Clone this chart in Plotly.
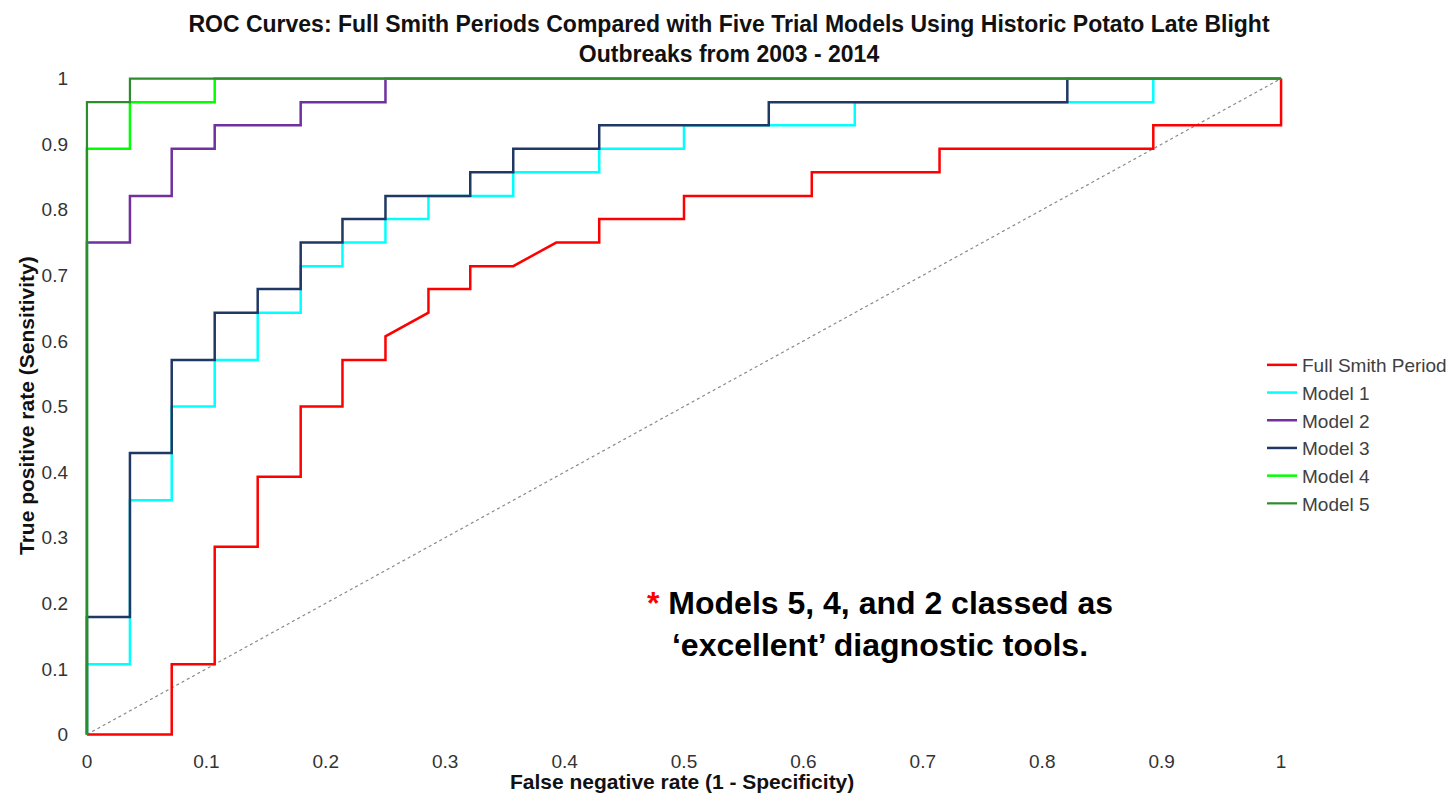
import plotly.graph_objects as go

# ---- data ----
series_names = ["Full Smith Period", "Model 1", "Model 2", "Model 3", "Model 4", "Model 5"]
series_colors = ["#FF0000", "#00FFFF", "#7030A0", "#1F3864", "#00FF00", "#2E8B2E"]

full_smith_x = [0, 0.071, 0.071, 0.107, 0.107, 0.143, 0.143, 0.179, 0.179, 0.214, 0.214, 0.25, 0.25,
                0.286, 0.286, 0.321, 0.321, 0.357, 0.393, 0.429, 0.429, 0.5, 0.5, 0.607, 0.607,
                0.714, 0.714, 0.893, 0.893, 1, 1]
full_smith_y = [0, 0, 0.107, 0.107, 0.286, 0.286, 0.393, 0.393, 0.5, 0.5, 0.571, 0.571, 0.607,
                0.643, 0.679, 0.679, 0.714, 0.714, 0.75, 0.75, 0.786, 0.786, 0.821, 0.821, 0.857,
                0.857, 0.893, 0.893, 0.929, 0.929, 1]

model1_x = [0, 0, 0.036, 0.036, 0.071, 0.071, 0.107, 0.107, 0.143, 0.143, 0.179, 0.179, 0.214, 0.214,
            0.25, 0.25, 0.286, 0.286, 0.357, 0.357, 0.429, 0.429, 0.5, 0.5, 0.643, 0.643,
            0.893, 0.893, 1]
model1_y = [0, 0.107, 0.107, 0.357, 0.357, 0.5, 0.5, 0.571, 0.571, 0.643, 0.643, 0.714, 0.714, 0.75,
            0.75, 0.786, 0.786, 0.821, 0.821, 0.857, 0.857, 0.893, 0.893, 0.929, 0.929, 0.964,
            0.964, 1, 1]

model2_x = [0, 0, 0.036, 0.036, 0.071, 0.071, 0.107, 0.107, 0.179, 0.179, 0.25, 0.25, 1]
model2_y = [0, 0.75, 0.75, 0.821, 0.821, 0.893, 0.893, 0.929, 0.929, 0.964, 0.964, 1, 1]

model3_x = [0, 0, 0.036, 0.036, 0.071, 0.071, 0.107, 0.107, 0.143, 0.143, 0.179, 0.179, 0.214, 0.214,
            0.25, 0.25, 0.321, 0.321, 0.357, 0.357, 0.429, 0.429, 0.571, 0.571, 0.821, 0.821, 1]
model3_y = [0, 0.179, 0.179, 0.429, 0.429, 0.571, 0.571, 0.643, 0.643, 0.679, 0.679, 0.75, 0.75, 0.786,
            0.786, 0.821, 0.821, 0.857, 0.857, 0.893, 0.893, 0.929, 0.929, 0.964, 0.964, 1, 1]

model4_x = [0, 0, 0.036, 0.036, 0.107, 0.107, 1]
model4_y = [0, 0.893, 0.893, 0.964, 0.964, 1, 1]

model5_x = [0, 0, 0.036, 0.036, 1]
model5_y = [0, 0.964, 0.964, 1, 1]

reference_x = [0, 1]
reference_y = [0, 1]

tick_values = [0, 0.1, 0.2, 0.3, 0.4, 0.5, 0.6, 0.7, 0.8, 0.9, 1]
tick_labels = ["0", "0.1", "0.2", "0.3", "0.4", "0.5", "0.6", "0.7", "0.8", "0.9", "1"]

series_x = [full_smith_x, model1_x, model2_x, model3_x, model4_x, model5_x]
series_y = [full_smith_y, model1_y, model2_y, model3_y, model4_y, model5_y]
series_widths = [2.5, 2.5, 2.5, 2.5, 2.5, 2.2]

FONT = "Liberation Sans, Arial, sans-serif"

fig = go.Figure()

fig.add_trace(go.Scatter(x=reference_x, y=reference_y, mode="lines",
                         line=dict(color="#8a8a8a", width=1.2, dash="dot"),
                         showlegend=False, hoverinfo="skip"))

for i, name in enumerate(series_names):
    fig.add_trace(go.Scatter(x=series_x[i], y=series_y[i], mode="lines", name=name,
                             legendgroup=name,
                             line=dict(color=series_colors[i], width=series_widths[i])))

# plot area: x 75..1293 px, y 72..741 px
L, R, T, B = 75, 156, 72, 57
W, H = 1449, 798
pw = W - L - R
ph = H - T - B

def px_x(px):
    return (px - L) / pw

def px_y(py):
    return (H - B - py) / ph

fig.update_layout(
    width=W, height=H,
    margin=dict(l=L, r=R, t=T, b=B, pad=0, autoexpand=False),
    paper_bgcolor="white", plot_bgcolor="white",
    font=dict(family=FONT, color="#222222"),
    title=dict(
        text="ROC Curves: Full Smith Periods Compared with Five Trial Models Using Historic Potato Late Blight<br>Outbreaks from 2003 - 2014",
        font=dict(family=FONT, size=23, color="#111111", weight="bold"),
        x=729 / W, xanchor="center", y=1 - 32 / H, yanchor="middle", xref="container", yref="container",
    ),
    xaxis=dict(range=[-0.01, 1.01], tickvals=tick_values, ticktext=tick_labels,
               showgrid=False, zeroline=False, showline=False, ticks="",
               tickfont=dict(family=FONT, size=19, color="#333333"), ticklabelstandoff=7),
    yaxis=dict(range=[-0.01, 1.01], tickvals=tick_values, ticktext=tick_labels,
               showgrid=False, zeroline=False, showline=False, ticks="",
               tickfont=dict(family=FONT, size=19, color="#333333"), ticklabelstandoff=6),
    legend=dict(x=px_x(1262), xanchor="left", y=px_y(346), yanchor="top",
                bgcolor="rgba(0,0,0,0)", borderwidth=0, traceorder="grouped",
                tracegroupgap=0, itemwidth=30,
                font=dict(family=FONT, size=19, color="#404040")),
    showlegend=True,
)

fig.add_annotation(text="False negative rate (1 - Specificity)", xref="paper", yref="paper",
                   x=px_x(681.5), y=px_y(781), xanchor="center", yanchor="middle", showarrow=False,
                   font=dict(family=FONT, size=21, color="#111111", weight="bold"))
fig.add_annotation(text="True positive rate (Sensitivity)", xref="paper", yref="paper",
                   x=px_x(26), y=px_y(406), xanchor="center", yanchor="middle", showarrow=False,
                   textangle=-90,
                   font=dict(family=FONT, size=21, color="#111111", weight="bold"))
fig.add_annotation(text="<span style='color:#FF0000'>*</span> Models 5, 4, and 2 classed as<br>\u2018excellent\u2019 diagnostic tools.",
                   xref="paper", yref="paper", x=px_x(880), y=px_y(624),
                   xanchor="center", yanchor="middle", align="center", showarrow=False,
                   font=dict(family=FONT, size=32, color="#000000", weight="bold"))

fig.write_html("out.html")
